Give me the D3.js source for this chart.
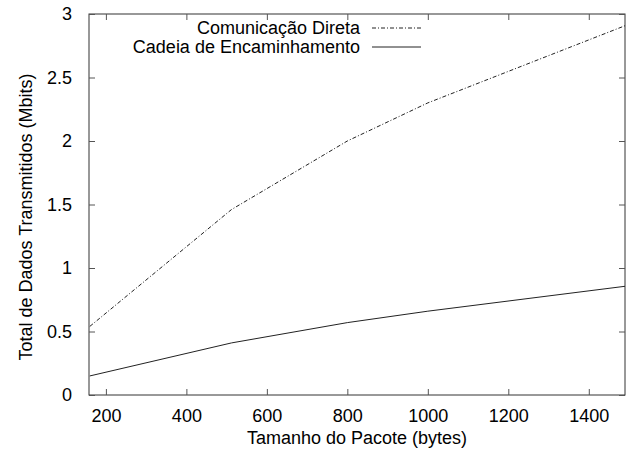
<!DOCTYPE html>
<html>
<head>
<meta charset="utf-8">
<script src="https://cdn.jsdelivr.net/npm/d3@7"></script>
<style>
	body { margin: 0; background: #fff; }
	text { font-family: "Liberation Sans", Arial, sans-serif; fill: #000; }
</style>
</head>
<body>
<svg id="chart" width="626" height="449"></svg>
<script>
// packet size vs total transmitted data
var packetSizes = [160, 512, 800, 1000, 1500];
var direta = [0.54, 1.46, 2.0, 2.3, 2.92];
var cadeia = [0.15, 0.41, 0.57, 0.66, 0.86];
var xTicks = [200, 400, 600, 800, 1000, 1200, 1400];
var yTicks = [0, 0.5, 1, 1.5, 2, 2.5, 3];
var seriesNames = ['Comunicação Direta', 'Cadeia de Encaminhamento'];

var svg = d3.select('#chart'),
	pLeft = 89, pRight = 625, pTop = 14, pBottom = 395;

var x = d3.scaleLinear().domain([158, 1490]).range([pLeft, pRight]),
	y = d3.scaleLinear().domain([0, 3]).range([pBottom, pTop]);

svg.append('clipPath').attr('id', 'clip')
	.append('rect').attr('x', pLeft).attr('y', pTop)
	.attr('width', pRight - pLeft).attr('height', pBottom - pTop);

// frame
svg.append('rect')
	.attr('x', pLeft).attr('y', pTop)
	.attr('width', pRight - pLeft).attr('height', pBottom - pTop)
	.attr('fill', 'none').attr('stroke', '#333').attr('stroke-width', 1);

// ticks on all sides, pointing in
function tickStyle(g) {
	g.select('.domain').remove();
	g.selectAll('.tick line').attr('stroke', '#555');
	g.selectAll('.tick text').style('font-size', '18px').style('font-family', '"Liberation Sans", Arial, sans-serif');
}

svg.append('g').attr('transform', 'translate(0,' + pBottom + ')')
	.call(d3.axisBottom(x).tickValues(xTicks).tickSizeInner(-6).tickPadding(14).tickFormat(d3.format('d')))
	.call(tickStyle);
svg.append('g').attr('transform', 'translate(0,' + pTop + ')')
	.call(d3.axisTop(x).tickValues(xTicks).tickSizeInner(-6).tickFormat(''))
	.call(tickStyle);
svg.append('g').attr('transform', 'translate(' + pLeft + ',0)')
	.call(d3.axisLeft(y).tickValues(yTicks).tickSizeInner(-6).tickPadding(17).tickFormat(d3.format('')))
	.call(tickStyle);
svg.append('g').attr('transform', 'translate(' + pRight + ',0)')
	.call(d3.axisRight(y).tickValues(yTicks).tickSizeInner(-6).tickFormat(''))
	.call(tickStyle);

// axis titles
svg.append('text').attr('x', 357).attr('y', 444)
	.attr('text-anchor', 'middle').style('font-size', '18px')
	.text('Tamanho do Pacote (bytes)');
svg.append('text')
	.attr('transform', 'translate(32,217) rotate(-90)')
	.attr('text-anchor', 'middle').style('font-size', '18px')
	.text('Total de Dados Transmitidos (Mbits)');

// lines
var line = d3.line()
	.x(function (d, i) { return x(packetSizes[i]); })
	.y(function (d) { return y(d); });

var plot = svg.append('g').attr('clip-path', 'url(#clip)');
plot.append('path').datum(direta)
	.attr('d', line).attr('fill', 'none')
	.attr('stroke', '#222').attr('stroke-width', 1)
	.attr('stroke-dasharray', '4,2,1,2');
plot.append('path').datum(cadeia)
	.attr('d', line).attr('fill', 'none')
	.attr('stroke', '#222').attr('stroke-width', 1);

// legend
var dashes = ['4,2,1,2', null];
var legend = svg.append('g').selectAll('g').data(seriesNames).enter().append('g')
	.attr('transform', function (d, i) { return 'translate(0,' + (28 + i * 19) + ')'; });
legend.append('text').attr('x', 360).attr('y', 6)
	.attr('text-anchor', 'end').style('font-size', '18px')
	.text(function (d) { return d; });
legend.append('line')
	.attr('x1', 372).attr('x2', 421).attr('y1', 0).attr('y2', 0)
	.attr('stroke', '#222').attr('stroke-width', 1)
	.attr('stroke-dasharray', function (d, i) { return dashes[i]; });
</script>
</body>
</html>
